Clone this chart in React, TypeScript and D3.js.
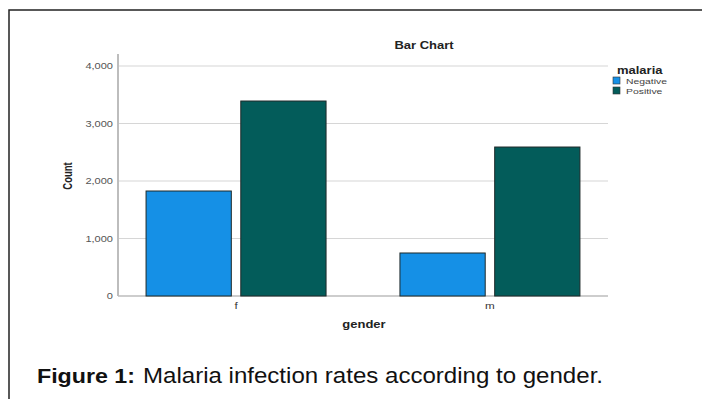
import React from "react";
import * as d3 from "d3";

const genders = ["f", "m"];
const malariaGroups = ["Negative", "Positive"];
const negativeCounts = [1826, 748];
const positiveCounts = [3391, 2591];
const yTicks = [0, 1000, 2000, 3000, 4000];
const colors = ["#1590e6", "#035c5a"];

const W = 702;
const H = 399;
const plotLeft = 118;
const plotRight = 608;
const plotTop = 66;
const plotBottom = 296;
const SX = 1.3;

function SText(props: any) {
  const { x, y, sx = SX, rotate = 0, children, ...rest } = props;
  const tf = rotate
    ? `translate(${x},${y}) rotate(${rotate}) scale(1,${sx})`
    : `translate(${x},${y}) scale(${sx},1)`;
  return (
    <text transform={tf} {...rest}>
      {children}
    </text>
  );
}

export default function App() {
  const y = d3.scaleLinear().domain([0, 4000]).range([plotBottom, plotTop]);
  const x = d3.scalePoint<string>().domain(genders).range([plotLeft, plotRight]).padding(0.465);
  const inner = d3.scaleBand<string>().domain(malariaGroups).range([-90, 90]).paddingInner(0.1);
  const series = [negativeCounts, positiveCounts];
  const fmt = d3.format(",");
  const font = "Liberation Sans, Arial, sans-serif";

  return (
    <svg
      width={W}
      height={H}
      style={{ position: "absolute", left: 0, top: 0, background: "#fff" }}
      fontFamily={font}
    >
      <rect x={0} y={0} width={W} height={H} fill="#fff" />
      <rect x={9} y={10} width={W + 20} height={H + 20} fill="none" stroke="#222" strokeWidth={1.5} />

      <SText x={424} y={49} textAnchor="middle" fontSize={10} fontWeight="bold" fill="#222">
        Bar Chart
      </SText>

      {yTicks.map((t) => (
        <g key={t}>
          {t > 0 && (
            <line x1={plotLeft} x2={plotRight} y1={y(t)} y2={y(t)} stroke="#d6d6d6" strokeWidth={1.2} />
          )}
          <SText x={113} y={y(t) + 3} textAnchor="end" fontSize={8.5} fill="#555">
            {fmt(t)}
          </SText>
        </g>
      ))}

      <line x1={plotLeft} x2={plotLeft} y1={54} y2={plotBottom} stroke="#bdbdbd" strokeWidth={2} />
      <line x1={plotLeft} x2={plotRight} y1={plotBottom} y2={plotBottom} stroke="#bdbdbd" strokeWidth={1.5} />

      {genders.map((g, gi) =>
        malariaGroups.map((m, mi) => {
          const v = series[mi][gi];
          const bx = (x(g) as number) + (inner(m) as number);
          return (
            <rect
              key={g + m}
              x={bx}
              y={y(v)}
              width={inner.bandwidth()}
              height={plotBottom - y(v)}
              fill={colors[mi]}
              stroke="#1f2a2a"
              strokeWidth={1}
            />
          );
        })
      )}

      {genders.map((g) => (
        <SText key={g} x={x(g) as number} y={309} textAnchor="middle" fontSize={9} fill="#333">
          {g}
        </SText>
      ))}

      <SText x={364} y={328} textAnchor="middle" fontSize={10} fontWeight="bold" fill="#222">
        gender
      </SText>
      <SText x={72} y={176} rotate={-90} textAnchor="middle" fontSize={9.5} fontWeight="bold" fill="#222">
        Count
      </SText>

      <SText x={617} y={74} fontSize={10} fontWeight="bold" fill="#222">
        malaria
      </SText>
      {malariaGroups.map((m, i) => (
        <g key={m}>
          <rect x={613} y={77 + i * 10} width={7} height={7} fill={colors[i]} stroke="#333" strokeWidth={0.6} />
          <SText x={626} y={84 + i * 10} fontSize={8} fill="#444">
            {m}
          </SText>
        </g>
      ))}

      <text x={37} y={383} fontSize={21} fill="#111" fontWeight="bold" textLength={98} lengthAdjust="spacingAndGlyphs">
        Figure 1:
      </text>
      <text x={143} y={383} fontSize={21.5} fill="#111" textLength={460} lengthAdjust="spacingAndGlyphs">
        Malaria infection rates according to gender.
      </text>
    </svg>
  );
}
